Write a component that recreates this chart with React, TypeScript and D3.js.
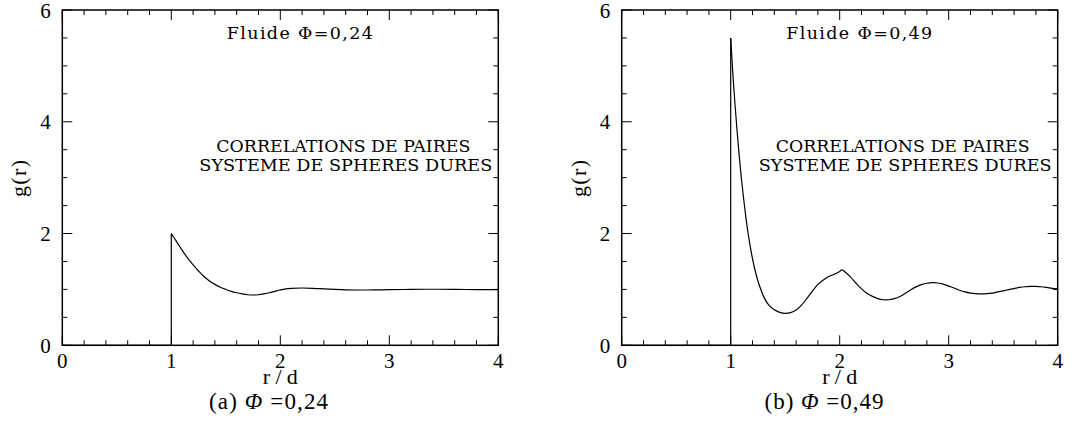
import React from "react";
import * as d3 from "d3";

// ---- data ----
const rA = [0, 1, 1, 1.05, 1.1, 1.15, 1.2, 1.25, 1.3, 1.35, 1.4, 1.45, 1.5, 1.55, 1.6, 1.65, 1.7, 1.75, 1.8, 1.85, 1.9, 1.95, 2.0, 2.05, 2.1, 2.2, 2.3, 2.4, 2.5, 2.6, 2.7, 2.8, 2.9, 3.0, 3.2, 3.4, 3.6, 3.8, 4.0];
const gA = [0, 0, 2.0, 1.85, 1.7, 1.56, 1.44, 1.33, 1.23, 1.15, 1.09, 1.04, 1.0, 0.965, 0.94, 0.92, 0.905, 0.9, 0.905, 0.92, 0.94, 0.965, 0.99, 1.01, 1.02, 1.025, 1.02, 1.01, 1.0, 0.993, 0.99, 0.99, 0.992, 0.995, 1.0, 1.003, 1.0, 0.998, 0.998];

const rB = [0, 1, 1, 1.02, 1.04, 1.06, 1.08, 1.1, 1.12, 1.14, 1.16, 1.18, 1.2, 1.22, 1.25, 1.28, 1.31, 1.35, 1.4, 1.45, 1.5, 1.55, 1.6, 1.65, 1.7, 1.75, 1.8, 1.85, 1.9, 1.95, 2.0, 2.02, 2.05, 2.1, 2.15, 2.2, 2.25, 2.3, 2.35, 2.4, 2.45, 2.5, 2.55, 2.6, 2.65, 2.7, 2.75, 2.8, 2.85, 2.9, 2.95, 3.0, 3.05, 3.1, 3.15, 3.2, 3.25, 3.3, 3.35, 3.4, 3.45, 3.5, 3.55, 3.6, 3.65, 3.7, 3.75, 3.8, 3.85, 3.9, 3.95, 4.0];
const gB = [0, 0, 5.5, 4.85, 4.3, 3.8, 3.35, 2.95, 2.6, 2.28, 2.0, 1.76, 1.55, 1.37, 1.15, 0.98, 0.84, 0.72, 0.635, 0.59, 0.572, 0.585, 0.63, 0.72, 0.84, 0.97, 1.09, 1.17, 1.23, 1.27, 1.32, 1.35, 1.31, 1.22, 1.11, 1.01, 0.93, 0.875, 0.835, 0.815, 0.815, 0.835, 0.87, 0.925, 0.99, 1.045, 1.085, 1.11, 1.12, 1.115, 1.095, 1.06, 1.025, 0.985, 0.955, 0.935, 0.925, 0.922, 0.925, 0.935, 0.955, 0.975, 0.995, 1.015, 1.035, 1.048, 1.055, 1.055, 1.048, 1.035, 1.02, 1.01];

const xTickLabels = ["0", "1", "2", "3", "4"];
const yTickLabels = ["0", "2", "4", "6"];
const titles = ["Fluide \u03A6=0,24", "Fluide \u03A6=0,49"];
const noteLine1 = "CORRELATIONS DE PAIRES";
const noteLine2 = "SYSTEME DE SPHERES DURES";
const captionPrefix = ["(a) ", "(b) "];
const captionValue = ["=0,24", "=0,49"];
const xLabel = "r/d";
const yLabel = "g(r)";

const W = 1079;
const H = 423;
const cm = "Liberation Serif";
const hershey = "DejaVu Serif";

type PanelProps = { left: number; rs: number[]; gs: number[]; idx: number; capX: number };

function Panel({ left, rs, gs, idx, capX }: PanelProps) {
  const plotW = 436;
  const top = 10;
  const bottom = 345.3;
  const x = d3.scaleLinear().domain([0, 4]).range([left, left + plotW]);
  const y = d3.scaleLinear().domain([0, 6]).range([bottom, top]);

  const pts: [number, number][] = rs.map((r, i) => [r, gs[i]]);
  const lin = d3.line<[number, number]>().x((d) => x(d[0])).y((d) => y(d[1]));
  const smooth = d3
    .line<[number, number]>()
    .x((d) => x(d[0]))
    .y((d) => y(d[1]))
    .curve(d3.curveCatmullRom.alpha(0.5));

  const xMinor = d3.range(0, 4.0001, 0.2);
  const yMinor = d3.range(0, 6.0001, 0.5);
  const isMajorX = (v: number) => Math.abs(v - Math.round(v)) < 1e-6;
  const isMajorY = (v: number) => Math.abs(v / 2 - Math.round(v / 2)) < 1e-6;
  const minorLen = 5;
  const majorLen = 10;

  const x0 = x(0);
  const x4 = x(4);

  return (
    <g>
      {xMinor.map((v, i) => {
        const L = isMajorX(v) ? majorLen : minorLen;
        return (
          <g key={"xt" + i}>
            <line x1={x(v)} x2={x(v)} y1={bottom} y2={bottom - L} stroke="#000" strokeWidth={1} />
            <line x1={x(v)} x2={x(v)} y1={top} y2={top + L} stroke="#000" strokeWidth={1} />
          </g>
        );
      })}
      {yMinor.map((v, i) => {
        const L = isMajorY(v) ? majorLen : minorLen;
        return (
          <g key={"yt" + i}>
            <line x1={x0} x2={x0 + L} y1={y(v)} y2={y(v)} stroke="#000" strokeWidth={1} />
            <line x1={x4} x2={x4 - L} y1={y(v)} y2={y(v)} stroke="#000" strokeWidth={1} />
          </g>
        );
      })}
      <path d={lin(pts.slice(0, 3)) || ""} fill="none" stroke="#000" strokeWidth={1.2} />
      <path d={smooth(pts.slice(2)) || ""} fill="none" stroke="#000" strokeWidth={1.2} />
      <rect x={x0} y={top} width={x4 - x0} height={bottom - top} fill="none" stroke="#000" strokeWidth={1.5} />

      {xTickLabels.map((t) => (
        <text key={"xl" + t} x={x(+t)} y={368} textAnchor="middle" fontFamily={cm} fontSize={21}>
          {t}
        </text>
      ))}
      {yTickLabels.map((t) => (
        <text key={"yl" + t} x={x0 - 11.5} y={y(+t) + 7.5} textAnchor="end" fontFamily={cm} fontSize={21}>
          {t}
        </text>
      ))}
      <text x={x(2) - 17.5} y={384} fontFamily={cm} fontSize={22} textLength={35} lengthAdjust="spacing">
        {xLabel}
      </text>
      <text
        transform={`translate(${x0 - 36},${197}) rotate(-90)`}
        fontFamily={cm}
        fontSize={22}
        textLength={37}
        lengthAdjust="spacing"
      >
        {yLabel}
      </text>
      <text x={x0 + 164.5} y={39} fontFamily={hershey} fontSize={17.5} textLength={146} lengthAdjust="spacing">
        {titles[idx]}
      </text>
      <text x={x0 + 154} y={151.5} fontFamily={hershey} fontSize={17.5} textLength={254} lengthAdjust="spacingAndGlyphs">
        {noteLine1}
      </text>
      <text x={x0 + 137} y={170.5} fontFamily={hershey} fontSize={17.5} textLength={293} lengthAdjust="spacingAndGlyphs">
        {noteLine2}
      </text>
      <text x={capX - 59.5} y={409} fontFamily={cm} fontSize={23} textLength={119} lengthAdjust="spacing">
        {captionPrefix[idx]}
        <tspan fontStyle="italic">{"\u03A6"}</tspan>
        {" "}
        {captionValue[idx]}
      </text>
    </g>
  );
}

export default function App() {
  return (
    <svg
      width={W}
      height={H}
      viewBox={`0 0 ${W} ${H}`}
      style={{ position: "absolute", left: 0, top: 0, background: "#fff" }}
    >
      <rect x={0} y={0} width={W} height={H} fill="#fff" />
      <Panel left={62.3} rs={rA} gs={gA} idx={0} capX={268.5} />
      <Panel left={621.7} rs={rB} gs={gB} idx={1} capX={824} />
    </svg>
  );
}
